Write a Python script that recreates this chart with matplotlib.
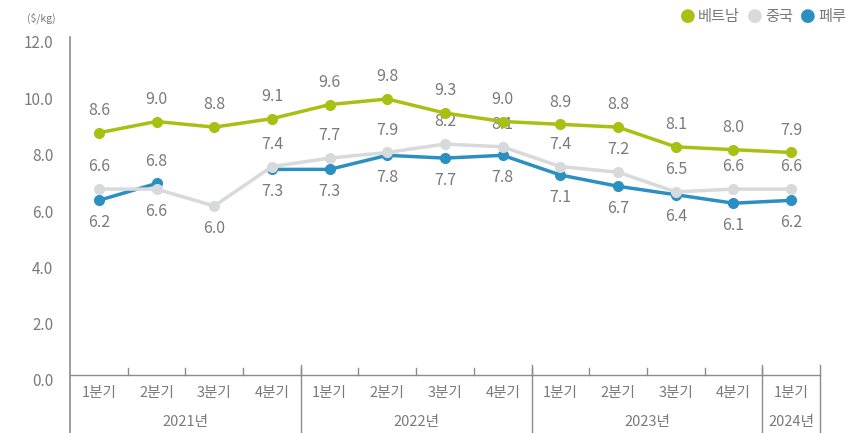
import numpy as np
import matplotlib.pyplot as plt
import matplotlib.transforms as mtransforms

plt.rcParams['font.family'] = ['Noto Sans CJK KR', 'DejaVu Sans']

quarters = ['1분기', '2분기', '3분기', '4분기',
            '1분기', '2분기', '3분기', '4분기',
            '1분기', '2분기', '3분기', '4분기',
            '1분기']
years = ['2021년', '2022년', '2023년', '2024년']
year_counts = [4, 4, 4, 1]

vietnam = [8.6, 9.0, 8.8, 9.1, 9.6, 9.8, 9.3, 9.0, 8.9, 8.8, 8.1, 8.0, 7.9]
china = [6.6, 6.6, 6.0, 7.4, 7.7, 7.9, 8.2, 8.1, 7.4, 7.2, 6.5, 6.6, 6.6]
peru = [6.2, 6.8, np.nan, 7.3, 7.3, 7.8, 7.7, 7.8, 7.1, 6.7, 6.4, 6.1, 6.2]

# label placement: 1 = above, -1 = below
vietnam_pos = [1] * 13
china_pos = [1, -1, -1] + [1] * 10
peru_pos = [-1, 1] + [-1] * 11

c_vn = '#a9c012'
c_cn = '#d7d9da'
c_pe = '#2b8fc2'
c_txt = '#7a7a7a'
c_ax = '#8c8c8c'

fig = plt.figure(figsize=(8.68, 4.33), dpi=100)
ax = fig.add_axes([70 / 868, 1 - 375 / 433, 750 / 868, 338 / 433])

x = np.arange(len(quarters))
ax.plot(x, peru, color=c_pe, lw=2.5, marker='o', ms=7, zorder=3)
ax.plot(x, china, color=c_cn, lw=2.5, marker='o', ms=7, zorder=4)
ax.plot(x, vietnam, color=c_vn, lw=2.5, marker='o', ms=7, zorder=5)

for vals, pos in [(vietnam, vietnam_pos), (china, china_pos), (peru, peru_pos)]:
    for i, v in enumerate(vals):
        if np.isnan(v):
            continue
        ax.annotate(f'{v:.1f}', (i, v), xytext=(0, 16 * pos[i]),
                    textcoords='offset points', ha='center', va='center',
                    fontsize=11.5, color=c_txt)

ax.set_xlim(-0.5, len(quarters) - 0.5)
ax.set_ylim(0, 12)
ax.set_yticks(np.arange(0, 12.1, 2))
ax.set_yticklabels([f'{t:.1f}' for t in np.arange(0, 12.1, 2)], fontsize=11, color=c_txt)
ax.tick_params(axis='y', length=0, pad=12)
shift = mtransforms.ScaledTranslation(0, -5 / 100, fig.dpi_scale_trans)
for lab in ax.get_yticklabels():
    lab.set_transform(lab.get_transform() + shift)
ax.set_xticks([])
for s in ax.spines.values():
    s.set_visible(False)

tr = ax.get_xaxis_transform()
# baseline
ax.plot([-0.5, len(quarters) - 0.5], [0, 0], color=c_ax, lw=1, transform=tr, clip_on=False)
# left axis line
ax.plot([-0.5, -0.5], [1.0, -0.172], color=c_ax, lw=1.2, transform=tr, clip_on=False)
# quarter ticks
for b in np.arange(0.5, len(quarters) - 0.5):
    ax.plot([b, b], [0, 0.022], color=c_ax, lw=1, transform=tr, clip_on=False)
# year separators
edge = -0.5
for n in year_counts:
    edge += n
    ax.plot([edge, edge], [0.03, -0.172], color=c_ax, lw=1, transform=tr, clip_on=False)

for i, q in enumerate(quarters):
    ax.text(i, -0.053, q, transform=tr, ha='center', va='center', fontsize=10.5, color=c_txt)
start = -0.5
for y, n in zip(years, year_counts):
    ax.text(start + n / 2, -0.14, y, transform=tr, ha='center', va='center', fontsize=10.5, color=c_txt)
    start += n

fig.text(27 / 868, 1 - 18 / 433, '($/kg)', ha='left', va='center', fontsize=7.5, color=c_txt)

# legend
items = [('베트남', c_vn), ('중국', c_cn), ('페루', c_pe)]
lx = [688, 755, 808]
for (name, col), px in zip(items, lx):
    fig.text(px / 868, 1 - 16 / 433, '●', color=col, fontsize=13, ha='center', va='center',
             family=['DejaVu Sans'])
    fig.text((px + 10) / 868, 1 - 16 / 433, name, color=c_txt, fontsize=11, ha='left', va='center')

fig.savefig('out.png', dpi=100)
